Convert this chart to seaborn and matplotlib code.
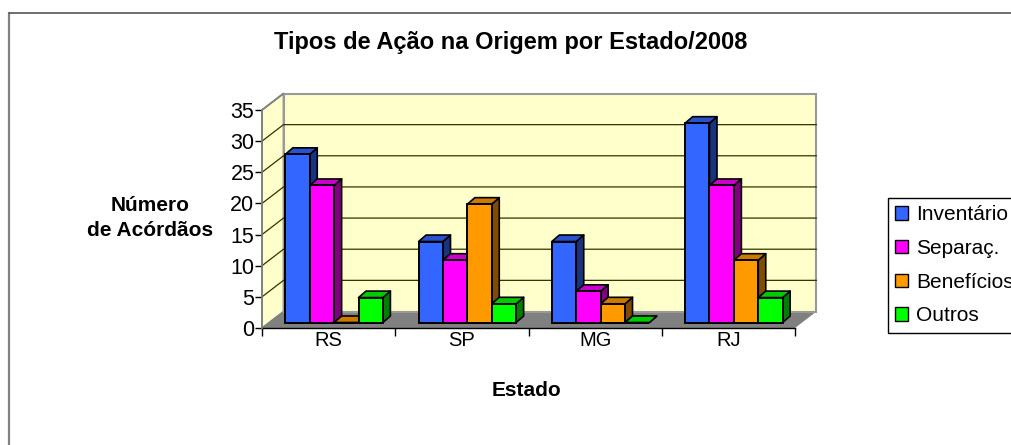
import matplotlib
matplotlib.use('Agg')
import matplotlib.pyplot as plt
import matplotlib.colors as mcolors
from matplotlib.lines import Line2D
from matplotlib.patches import Patch, Polygon
from matplotlib.transforms import Affine2D
import pandas as pd
import seaborn as sns

estados = ['RS', 'SP', 'MG', 'RJ']
tipos = ['Inventário', 'Separaç.', 'Benefícios', 'Outros']
inventario = [27, 13, 13, 32]
separacao = [22, 10, 5, 22]
beneficios = [0, 19, 3, 10]
outros = [4, 3, 0, 4]
cores = ['#3366FF', '#FF00FF', '#FF9900', '#00FF00']
y_ticks = [0, 5, 10, 15, 20, 25, 30, 35]

W, H = 1012, 445
# extrusion of the fake 3D walls and bars, in pixels
WALL_DX, WALL_DY = 21.5, 16.5
BAR_DX, BAR_DY = 7.5, 6.5
SHIFT_X, SHIFT_Y = 5.5, 5.5

df = pd.DataFrame({'estado': estados * 4,
                   'tipo': [t for t in tipos for _ in estados],
                   'valor': inventario + separacao + beneficios + outros})

sns.set_theme(style='white')
plt.rcParams['font.family'] = ['Liberation Sans', 'DejaVu Sans']

fig = plt.figure(figsize=(W / 100, H / 100), dpi=100)
ax = fig.add_axes([262 / W, 1 - 328 / H, 533 / W, 218 / H])
ax.patch.set_visible(False)

sns.barplot(data=df, x='estado', y='valor', hue='tipo', order=estados, hue_order=tipos,
            palette=cores, width=0.732, gap=0, saturation=1, legend=False, ax=ax)
ax.set_xlim(-0.5, 3.5)
ax.set_ylim(0, 35)
barras = sorted(ax.patches, key=lambda b: b.get_x())

# walls and floor, built in pixels from the axes corners
(x0, y0), (x1, y1) = ax.transData.transform([(-0.5, 0), (3.5, 35)])
pix = Affine2D()
floor = Polygon([(x0, y0), (x1, y0), (x1 + WALL_DX, y0 + WALL_DY), (x0 + WALL_DX, y0 + WALL_DY)],
                closed=True, transform=pix, fc='#808080', ec='none', zorder=0.5)
left = Polygon([(x0, y0), (x0 + WALL_DX, y0 + WALL_DY), (x0 + WALL_DX, y1 + WALL_DY), (x0, y1)],
               closed=True, transform=pix, fc='#FFFFCC', ec='#808080', lw=1.2, zorder=0.5)
rear = Polygon([(x0 + WALL_DX, y0 + WALL_DY), (x1 + WALL_DX, y0 + WALL_DY),
                (x1 + WALL_DX, y1 + WALL_DY), (x0 + WALL_DX, y1 + WALL_DY)],
               closed=True, transform=pix, fc='#FFFFCC', ec='#999999', lw=1.5, zorder=0.6)
for p in (floor, rear, left):
    p.set_clip_on(False)
    ax.add_patch(p)

for t in y_ticks[1:-1]:
    yy = ax.transData.transform((0, t))[1]
    ax.add_line(Line2D([x0, x0 + WALL_DX, x1 + WALL_DX], [yy, yy + WALL_DY, yy + WALL_DY],
                       transform=pix, color='#333300', lw=0.9, zorder=0.7, clip_on=False))
ax.add_line(Line2D([x0, x0 + WALL_DX], [y1, y1 + WALL_DY], transform=pix, color='#808080',
                   lw=1.2, zorder=0.7, clip_on=False))

# front faces come from seaborn; move them onto the floor and add top and side faces
for i, b in enumerate(barras):
    cor = mcolors.to_rgb(b.get_facecolor())
    (ax0, ay0), (ax1, ay1) = ax.transData.transform(
        [(b.get_x(), b.get_y()), (b.get_x() + b.get_width(), b.get_y() + b.get_height())])
    ax0, ax1 = ax0 + SHIFT_X, ax1 + SHIFT_X
    ay0, ay1 = ay0 + SHIFT_Y, ay1 + SHIFT_Y
    z = 2 + i
    topo = Polygon([(ax0, ay1), (ax1, ay1), (ax1 + BAR_DX, ay1 + BAR_DY), (ax0 + BAR_DX, ay1 + BAR_DY)],
                   closed=True, transform=pix, fc=tuple(c * 0.8 for c in cor),
                   ec='black', lw=1.2, zorder=z, clip_on=False, joinstyle='round')
    lado = Polygon([(ax1, ay0), (ax1 + BAR_DX, ay0 + BAR_DY), (ax1 + BAR_DX, ay1 + BAR_DY), (ax1, ay1)],
                   closed=True, transform=pix, fc=tuple(c * 0.5 for c in cor),
                   ec='black', lw=1.2, zorder=z, clip_on=False, joinstyle='round')
    ax.add_patch(lado)
    ax.add_patch(topo)
    b.set_transform(ax.transData + Affine2D().translate(SHIFT_X, SHIFT_Y))
    b.set(edgecolor='black', linewidth=1.4, zorder=z + 0.5, clip_on=False)

# axes
for s in ['top', 'right']:
    ax.spines[s].set_visible(False)
ax.spines['left'].set_color('#808080')
ax.spines['left'].set_linewidth(1.2)
ax.spines['bottom'].set_color('black')
ax.spines['bottom'].set_linewidth(1.0)
ax.spines['bottom'].set_zorder(1)
ax.set_yticks(y_ticks)
ax.set_xticks([-0.5, 0.5, 1.5, 2.5, 3.5], labels=[], minor=True)
ax.tick_params(axis='x', which='minor', bottom=True, length=6, width=1, color='black')
ax.tick_params(axis='x', which='major', bottom=False, length=0, pad=2, labelsize=14.5, labelcolor='black')
ax.tick_params(axis='y', left=True, length=5, width=1, color='black', pad=0.5,
               labelsize=15.5, labelcolor='black')
ax.set_xlabel('')
ax.set_ylabel('')

fig.text(511 / W, 1 - 43 / H, 'Tipos de Ação na Origem por Estado/2008', ha='center', va='center',
         fontsize=17, fontweight='bold', color='black')
fig.text(527 / W, 1 - 390 / H, 'Estado', ha='center', va='center',
         fontsize=15, fontweight='bold', color='black')
fig.text(150 / W, 1 - 218 / H, 'Número\nde Acórdãos', ha='center', va='center',
         fontsize=15, fontweight='bold', color='black', linespacing=1.4)

# legend runs off the right edge of the picture, as in the original
handles = [Patch(fc=c, ec='black', lw=1) for c in cores]
leg = fig.legend(handles, tipos, loc='lower left', bbox_to_anchor=(888 / W, 1 - 332.5 / H),
                 bbox_transform=fig.transFigure, frameon=True, fancybox=False, edgecolor='black',
                 facecolor='white', framealpha=1, fontsize=15, labelcolor='black', borderaxespad=0,
                 borderpad=0.35, labelspacing=0.70, handlelength=0.62, handleheight=0.62,
                 handletextpad=0.38)
leg.get_frame().set_linewidth(1.0)

# outer chart frame: only left and top edges fall inside the picture
fig.add_artist(Line2D([9.5 / W, 9.5 / W], [0, 1 - 12.5 / H], color='#808080', lw=1.6))
fig.add_artist(Line2D([9 / W, 1], [1 - 12.5 / H, 1 - 12.5 / H], color='#555555', lw=1.2))

fig.savefig('out.png', dpi=100)
